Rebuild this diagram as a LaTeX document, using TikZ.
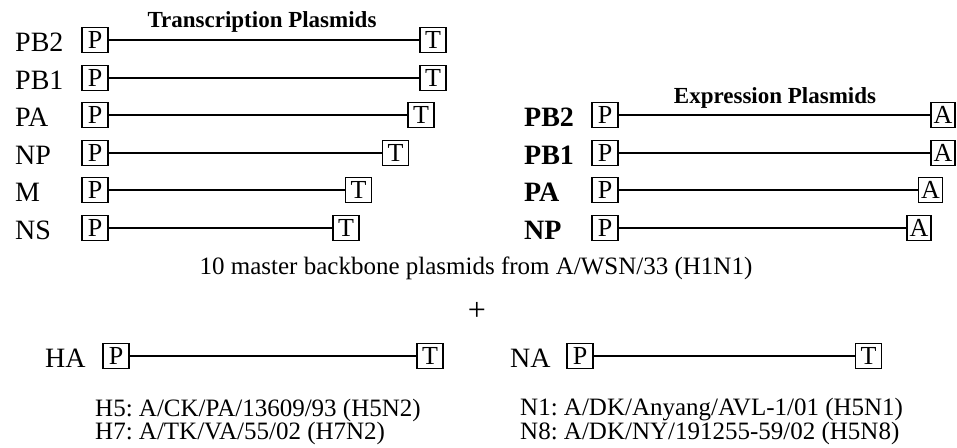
\documentclass[tikz,border=0pt]{standalone}
\usepackage{fontspec}
\setmainfont{Liberation Serif}
\usetikzlibrary{positioning}

\newcommand{\fsz}[1]{\fontsize{#1}{#1}\selectfont}

\begin{document}
\frenchspacing
\begin{tikzpicture}[x=1pt,y=-1pt,
   every node/.style={inner sep=0pt},
   elem/.style={draw,line width=1.5pt,minimum width=26pt,minimum height=25pt,font=\fsz{26}},
   gene/.style={anchor=west,font=\fsz{28}},
   strain/.style={anchor=west,font=\fsz{25}}]
  \useasboundingbox (0,0) rectangle (957,447);
  % transcription plasmids
  \node[font=\bfseries\fsz{23}] (ttitle) at (262,22) {Transcription Plasmids};
  \foreach \name/\y/\tx in {PB2/40/433,PB1/78/433,PA/115/421,NP/153/395.5,M/190/358.5,NS/228/346}{
    \node[gene] (t\name) at (15,\y+2) {\name};
    \node[elem] (tp\name) at (95,\y) {P};
    \node[elem] (tt\name) at (\tx,\y) {T};
    \draw[line width=1.5pt] (tp\name) -- (tt\name);
  }
  % expression plasmids
  \node[font=\bfseries\fsz{23}] (etitle) at (775,98) {Expression Plasmids};
  \foreach \name/\y/\ax in {PB2/115/943,PB1/153/943,PA/190/930.5,NP/228/919}{
    \node[gene,font=\bfseries\fsz{28}] (e\name) at (524,\y+2) {\name};
    \node[elem] (ep\name) at (605,\y) {P};
    \node[elem,minimum width=24pt] (ea\name) at (\ax,\y) {A};
    \draw[line width=1.5pt] (ep\name) -- (ea\name);
  }
  \node[font=\fsz{25}] (backbone) at (476,268) {10 master backbone plasmids from A/WSN/33 (H1N1)};
  \node[font=\fsz{32}] (plus) at (477,311) {+};
  % HA and NA
  \node[gene] (ha) at (45,358) {HA};
  \node[elem] (hap) at (116,356) {P};
  \node[elem] (hat) at (430,356) {T};
  \draw[line width=1.5pt] (hap) -- (hat);
  \node[gene] (na) at (510,358) {NA};
  \node[elem] (nap) at (580,356) {P};
  \node[elem] (nat) at (868.5,356) {T};
  \draw[line width=1.5pt] (nap) -- (nat);
  \node[strain] (h5) at (95,410) {H5: A/CK/PA/13609/93 (H5N2)};
  \node[strain] (h7) at (95,433) {H7: A/TK/VA/55/02 (H7N2)};
  \node[strain] (n1) at (520,410) {N1: A/DK/Anyang/AVL-1/01 (H5N1)};
  \node[strain] (n8) at (520,433) {N8: A/DK/NY/191255-59/02 (H5N8)};
\end{tikzpicture}
\end{document}
